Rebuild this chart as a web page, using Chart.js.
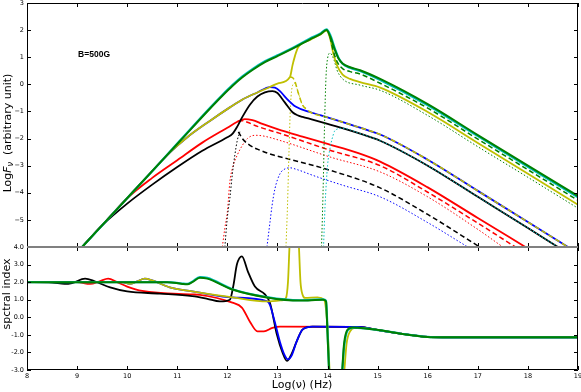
<!DOCTYPE html>
<html>
<head>
<meta charset="utf-8">
<script src="https://cdn.jsdelivr.net/npm/chart.js@4.4.0/dist/chart.umd.min.js"></script>
<style>
body { margin: 0; background: #fff; }
#wrap { position: relative; width: 581px; height: 392px; }
canvas { position: absolute; left: 0; }
#top { top: 0; }
#bot { top: 240px; }
</style>
</head>
<body>
<div id="wrap">
  <canvas id="top" width="581" height="250"></canvas>
  <canvas id="bot" width="581" height="152"></canvas>
</div>
<script>
// tick values
var xTicks = [8, 9, 10, 11, 12, 13, 14, 15, 16, 17, 18, 19];
var fluxTicks = [-6, -5, -4, -3, -2, -1, 0, 1, 2, 3];
var indexTicks = [-3, -2, -1, 0, 1, 2, 3, 4];

// ---- top panel: Log F_nu ----
var greenX = [9.1, 9.6, 10.1, 10.6, 11.05, 11.65, 11.9, 12.1, 12.3, 12.5, 12.75, 13.0, 13.35, 13.65, 13.85, 13.98, 14.05, 14.15, 14.22, 14.3, 14.45, 14.65, 15.05, 16, 17, 18, 19];
var greenY = [-6, -5.0, -4.0, -3.0, -2.1, -0.9, -0.42, -0.06, 0.26, 0.53, 0.82, 1.04, 1.36, 1.66, 1.84, 2.0, 1.78, 1.25, 0.95, 0.77, 0.63, 0.52, 0.2, -0.73, -1.87, -3.0, -4.12];
var cyanY  = [-6, -5.0, -4.0, -3.0, -2.08, -0.87, -0.39, -0.03, 0.29, 0.56, 0.85, 1.07, 1.39, 1.69, 1.87, 2.03, 1.84, 1.3, 0.97, 0.76, 0.61, 0.49, 0.16, -0.77, -1.91, -3.04, -4.17];

var yellowX = [9.1, 9.6, 10.0, 10.4, 10.85, 11.2, 11.65, 12.05, 12.31, 12.6, 12.85, 13.0, 13.25, 13.3, 13.35, 13.41, 13.65, 13.85, 13.98, 14.05, 14.12, 14.2, 14.3, 14.45, 14.65, 15.05, 16, 17, 18, 19];
var yellowY = [-6, -5.0, -4.2, -3.4, -2.52, -1.95, -1.35, -0.85, -0.55, -0.3, -0.1, 0.03, 0.27, 0.7, 1.05, 1.36, 1.64, 1.83, 1.98, 1.7, 1.1, 0.65, 0.36, 0.2, 0.08, -0.12, -1.02, -2.16, -3.3, -4.44];
var yelDashX = [13.25, 13.3, 13.35, 13.41, 13.5, 13.6, 13.65, 14.0, 14.65, 15.05, 16, 17, 18, 18.8];
var yelDashY = [0.27, 0.25, 0.1, -0.28, -0.76, -0.94, -1.02, -1.22, -1.6, -1.85, -2.78, -3.93, -5.08, -6.0];
var yelDotX = [13.17, 13.2, 13.23, 13.26, 13.3, 13.35, 13.41, 13.5, 13.6];
var yelDotY = [-6, -4.5, -2.5, -0.8, -0.05, 0.05, -0.28, -0.76, -0.94];

var blueX = [9.1, 9.6, 10.0, 10.4, 10.85, 11.2, 11.65, 12.05, 12.31, 12.6, 12.85, 12.95, 13.05, 13.17, 13.37, 13.65, 14.0, 14.65, 15.05, 16, 17, 18, 18.8];
var blueY = [-6, -5.0, -4.2, -3.4, -2.52, -1.95, -1.35, -0.85, -0.55, -0.3, -0.1, -0.12, -0.25, -0.5, -0.83, -1.02, -1.22, -1.6, -1.85, -2.78, -3.93, -5.08, -6.0];
var blueDotX = [12.79, 12.85, 12.89, 12.95, 13.05, 13.15, 13.25, 13.4, 13.71, 14.3, 15.05, 16, 16.8];
var blueDotY = [-6, -5.1, -4.5, -3.85, -3.3, -3.12, -3.08, -3.15, -3.36, -3.72, -4.15, -5.1, -6.0];

var blackX = [9.1, 9.5, 10.0, 10.5, 11.0, 11.5, 12.0, 12.1, 12.2, 12.3, 12.45, 12.6, 12.75, 12.9, 13.0, 13.1, 13.2, 13.3, 13.4, 13.5, 13.7, 14.0, 14.65, 15.05, 16, 17, 18, 18.6];
var blackY = [-6, -5.2, -4.4, -3.7, -3.05, -2.45, -1.95, -1.83, -1.55, -1.2, -0.75, -0.45, -0.3, -0.25, -0.32, -0.55, -0.8, -1.03, -1.14, -1.2, -1.3, -1.46, -1.82, -2.08, -3.0, -4.15, -5.3, -6.0];
var blkDashX = [12.22, 12.3, 12.45, 12.65, 12.9, 13.19, 14.05, 15.05, 16, 17.04];
var blkDashY = [-1.75, -2.0, -2.25, -2.43, -2.6, -2.74, -3.17, -3.82, -4.8, -6.0];
var blkDotX = [11.95, 12.0, 12.05, 12.1, 12.15, 12.2, 12.25];
var blkDotY = [-6, -4.9, -4.2, -3.3, -2.6, -2.05, -1.75];

var redX = [9.1, 9.6, 10.0, 10.5, 11.0, 11.5, 12.0, 12.2, 12.35, 12.5, 12.7, 13.0, 13.5, 14.0, 14.6, 15.05, 16, 17, 17.95];
var redY = [-6, -5.0, -4.2, -3.45, -2.8, -2.15, -1.6, -1.38, -1.28, -1.32, -1.46, -1.65, -1.93, -2.2, -2.53, -2.85, -3.8, -4.93, -6.0];
var redDashX = [12.22, 12.3, 12.4, 12.6, 13.05, 14.05, 15.05, 16, 17, 17.75];
var redDashY = [-1.36, -1.34, -1.4, -1.55, -1.81, -2.43, -3.0, -3.98, -5.12, -6.0];
var redDotX = [11.9, 11.95, 12.0, 12.05, 12.1, 12.2, 12.3, 12.4, 12.55, 12.7, 13.05, 14.05, 15.05, 16, 17, 17.5];
var redDotY = [-6, -5.3, -4.7, -3.6, -3.1, -2.6, -2.25, -2.0, -1.88, -1.9, -2.07, -2.68, -3.23, -4.15, -5.35, -6.0];

var grnDashX = [14.05, 14.12, 14.2, 14.3, 14.45, 14.65, 15.05, 16, 17, 18, 19];
var grnDashY = [1.75, 1.2, 0.8, 0.58, 0.47, 0.38, 0.04, -0.88, -2.02, -3.15, -4.28];
var grnDotX = [13.88, 13.91, 13.94, 13.97, 14.0, 14.05, 14.12, 14.19, 14.3, 14.65, 15.05, 16, 17, 18, 19];
var grnDotY = [-6, -4.0, -1.5, 0.3, 0.95, 1.15, 0.95, 0.52, 0.2, -0.03, -0.22, -1.15, -2.3, -3.43, -4.57];
var cyanDotX = [13.92, 13.95, 14.0, 14.05, 14.1, 14.15, 14.3, 14.65, 15.05, 16, 17, 18, 18.6];
var cyanDotY = [-6, -4.5, -3.0, -2.35, -1.95, -1.7, -1.62, -1.82, -2.08, -3.0, -4.15, -5.3, -6.0];

// ---- bottom panel: spectral index ----
var idxGreenX = [8, 9, 10, 10.8, 11.1, 11.2, 11.3, 11.45, 11.6, 12.1, 12.79, 13.45, 13.91, 13.97, 14.0, 14.04, 14.1, 14.22, 14.28, 14.33, 14.4, 14.5, 14.6, 15.05, 15.5, 16, 16.3, 17, 18, 19];
var idxGreenY = [2.0, 2.0, 2.0, 2.0, 1.9, 1.88, 2.0, 2.25, 2.2, 1.58, 1.13, 0.95, 1.0, 0.9, -1.0, -3.5, -4.5, -4.5, -3.5, -1.5, -0.7, -0.58, -0.6, -0.74, -0.95, -1.12, -1.14, -1.14, -1.14, -1.14];
var idxCyanY  = [2.0, 2.0, 2.0, 2.0, 1.92, 1.9, 2.03, 2.29, 2.24, 1.6, 1.15, 0.97, 1.02, 0.95, -0.8, -3.5, -4.5, -4.5, -3.6, -1.7, -0.75, -0.6, -0.6, -0.74, -0.95, -1.12, -1.14, -1.14, -1.14, -1.14];

var idxYellowX = [8, 9.9, 10.05, 10.2, 10.35, 10.5, 10.85, 11.3, 11.45, 12.1, 12.8, 13.1, 13.17, 13.21, 13.25, 13.3, 13.38, 13.42, 13.46, 13.5, 13.55, 13.8, 13.93, 14.0, 14.05, 14.1, 14.25, 14.32, 14.38, 14.45, 14.55, 14.6, 15.05, 15.5, 16, 16.3, 19];
var idxYellowY = [2.0, 2.0, 1.9, 2.05, 2.2, 2.1, 1.7, 1.47, 1.4, 1.13, 0.9, 0.97, 1.1, 2.0, 4.5, 5.0, 5.0, 4.5, 2.0, 1.3, 1.1, 1.13, 1.0, -0.6, -3.5, -4.5, -4.5, -3.5, -1.5, -0.8, -0.6, -0.6, -0.74, -0.95, -1.12, -1.14, -1.14];

var idxBlueX = [8, 9.9, 10.05, 10.2, 10.35, 10.5, 10.85, 11.3, 11.45, 12.1, 12.8, 12.85, 12.95, 13.05, 13.15, 13.21, 13.28, 13.38, 13.5, 13.7, 14.6, 15.05, 15.5, 16, 16.3, 19];
var idxBlueY = [2.0, 2.0, 1.9, 2.05, 2.2, 2.1, 1.7, 1.47, 1.4, 1.13, 0.9, 0.7, -0.3, -1.4, -2.2, -2.4, -2.2, -1.4, -0.7, -0.53, -0.55, -0.74, -0.95, -1.12, -1.14, -1.14];

var idxBlackX = [8, 8.5, 8.75, 8.9, 9.16, 9.35, 9.66, 10.0, 10.65, 11.3, 11.6, 11.85, 12.05, 12.12, 12.19, 12.29, 12.41, 12.55, 12.75, 12.85, 12.99, 13.1, 13.19, 13.28, 13.38, 13.5, 13.7, 14.6, 15.05, 15.5, 16, 16.3, 19];
var idxBlackY = [2.0, 1.98, 1.9, 1.95, 2.2, 2.05, 1.7, 1.47, 1.35, 1.2, 1.05, 0.9, 1.0, 1.8, 3.0, 3.47, 2.6, 1.75, 1.3, 0.83, -1.0, -2.0, -2.48, -2.1, -1.4, -0.7, -0.53, -0.55, -0.74, -0.95, -1.12, -1.14, -1.14];

var idxRedX = [8, 9.0, 9.26, 9.45, 9.62, 9.8, 10.0, 10.3, 11.3, 11.45, 12.1, 12.29, 12.45, 12.6, 12.73, 12.9, 13.05, 14.6, 15.05, 15.5, 16, 16.3, 19];
var idxRedY = [2.0, 2.0, 1.9, 2.05, 2.2, 2.0, 1.75, 1.5, 1.3, 1.28, 0.83, 0.55, -0.25, -0.8, -0.8, -0.6, -0.53, -0.55, -0.74, -0.95, -1.12, -1.14, -1.14];

var GREEN = '#008000', CYAN = '#00bfbf', YELLOW = '#bfbf00', RED = '#ff0000', BLUE = '#0000ff', BLACK = '#000000';
var DASH = [5, 3], DOT = [1.5, 2];

function pts(xs, ys) {
  return xs.map(function (x, i) { return {x: x, y: ys[i]}; });
}
function line(xs, ys, color, width, dash) {
  return {
    data: pts(xs, ys),
    borderColor: color,
    borderWidth: width,
    borderDash: dash || [],
    pointRadius: 0,
    fill: false,
    cubicInterpolationMode: 'monotone'
  };
}
function fluxLabel(v) {
  if (v === -6) return '';
  return v < 0 ? '\u2212' + (-v) : '' + v;
}

// inward ticks and frame, drawn from the chart's own scales
var framePlugin = {
  id: 'frame',
  afterDraw: function (chart, args, opts) {
    var ctx = chart.ctx, a = chart.chartArea;
    var sx = chart.scales.x, sy = chart.scales.y;
    ctx.save();
    ctx.strokeStyle = '#000';
    ctx.lineWidth = 1;
    ctx.beginPath();
    xTicks.forEach(function (v) {
      var px = Math.round(sx.getPixelForValue(v)) + 0.5;
      ctx.moveTo(px, a.top); ctx.lineTo(px, a.top + 4);
      ctx.moveTo(px, a.bottom); ctx.lineTo(px, a.bottom - 4);
    });
    opts.yTicks.forEach(function (v) {
      var py = Math.round(sy.getPixelForValue(v)) + 0.5;
      ctx.moveTo(a.left, py); ctx.lineTo(a.left + 4, py);
      ctx.moveTo(a.right, py); ctx.lineTo(a.right - 4, py);
    });
    ctx.stroke();
    var l = Math.round(a.left) + 0.5, r = Math.round(a.right) - 0.5;
    var t = Math.round(a.top) + 0.5, b = Math.round(a.bottom) - 0.5;
    ctx.beginPath();
    ctx.moveTo(l, t); ctx.lineTo(l, b);
    ctx.moveTo(r, t); ctx.lineTo(r, b);
    if (opts.grayBottom) { ctx.moveTo(l, t); ctx.lineTo(r, t); }
    else { ctx.moveTo(l, b); ctx.lineTo(r, b); }
    ctx.stroke();
    ctx.strokeStyle = '#808080';
    ctx.lineWidth = 2;
    ctx.beginPath();
    var gy = opts.grayBottom ? Math.round(a.bottom) : Math.round(a.top);
    ctx.moveTo(a.left, gy); ctx.lineTo(a.right, gy);
    ctx.stroke();
    ctx.restore();
  }
};

function drawParts(ctx, parts, cx, cy) {
  var total = 0;
  parts.forEach(function (p) { ctx.font = p.f; p.w = ctx.measureText(p.t).width; total += p.w; });
  var x = cx - total / 2;
  parts.forEach(function (p) {
    ctx.font = p.f;
    ctx.fillText(p.t, x, cy + (p.dy || 0));
    x += p.w;
  });
}

var topTexts = {
  id: 'topTexts',
  afterDraw: function (chart) {
    var ctx = chart.ctx, sx = chart.scales.x, sy = chart.scales.y;
    ctx.save();
    ctx.fillStyle = '#000';
    ctx.textBaseline = 'middle';
    ctx.textAlign = 'left';
    ctx.font = 'bold 8.5px "Liberation Sans"';
    ctx.fillText('B=500G', sx.getPixelForValue(9.02), sy.getPixelForValue(1.08));
    ctx.translate(8, 133);
    ctx.rotate(-Math.PI / 2);
    drawParts(ctx, [
      {t: 'Log', f: '11px "DejaVu Sans"'},
      {t: 'F', f: 'italic 11px "DejaVu Sans"'},
      {t: '\u03bd', f: 'italic 8px "DejaVu Sans"', dy: 2.5},
      {t: '  (arbitrary unit)', f: '11px "DejaVu Sans"'}
    ], 0, 0);
    ctx.restore();
  }
};

var botTexts = {
  id: 'botTexts',
  afterDraw: function (chart) {
    var ctx = chart.ctx;
    ctx.save();
    ctx.fillStyle = '#000';
    ctx.textBaseline = 'middle';
    ctx.textAlign = 'left';
    drawParts(ctx, [{t: 'Log(\u03bd) (Hz)', f: '11px "DejaVu Sans"'}], 302, 145);
    ctx.translate(7, 54);
    ctx.rotate(-Math.PI / 2);
    drawParts(ctx, [{t: 'spctral index', f: '11px "DejaVu Sans"'}], 0, 0);
    ctx.restore();
  }
};

var tickFont = {family: 'DejaVu Sans', size: 6.5};

new Chart('top', {
  type: 'line',
  data: {
    datasets: [
      line(greenX, greenY, GREEN, 2),
      line(greenX, cyanY, CYAN, 2.2),
      line(grnDashX, grnDashY, GREEN, 1.5, DASH),
      line(yellowX, yellowY, YELLOW, 1.8),
      line(grnDotX, grnDotY, GREEN, 1, DOT),
      line(yelDashX, yelDashY, YELLOW, 1.5, DASH),
      line(blueX, blueY, BLUE, 1.8),
      line(cyanDotX, cyanDotY, CYAN, 1, DOT),
      line(blackX, blackY, BLACK, 1.8),
      line(yelDotX, yelDotY, YELLOW, 1, DOT),
      line(redX, redY, RED, 1.8),
      line(redDashX, redDashY, RED, 1.5, DASH),
      line(blkDashX, blkDashY, BLACK, 1.5, DASH),
      line(blkDotX, blkDotY, BLACK, 1, DOT),
      line(redDotX, redDotY, RED, 1, DOT),
      line(blueDotX, blueDotY, BLUE, 1, DOT)
    ]
  },
  options: {
    responsive: false,
    animation: false,
    events: [],
    layout: {padding: {left: 0, right: 3, top: 3, bottom: 3}},
    plugins: {legend: {display: false}, tooltip: {enabled: false}, frame: {yTicks: fluxTicks, grayBottom: true}},
    scales: {
      x: {type: 'linear', min: 8, max: 19, display: false},
      y: {
        min: -6, max: 3,
        grid: {display: false, drawTicks: false},
        border: {display: false},
        ticks: {stepSize: 1, padding: 3, color: '#000', font: tickFont, callback: fluxLabel},
        afterFit: function (s) { s.width = 27; s.paddingTop = 0; s.paddingBottom = 0; }
      }
    }
  },
  plugins: [framePlugin, topTexts]
});

new Chart('bot', {
  type: 'line',
  data: {
    datasets: [
      line(idxGreenX, idxGreenY, GREEN, 2),
      line(idxGreenX, idxCyanY, CYAN, 2.2),
      line(idxYellowX, idxYellowY, YELLOW, 1.8),
      line(idxBlueX, idxBlueY, BLUE, 1.8),
      line(idxBlackX, idxBlackY, BLACK, 1.8),
      line(idxRedX, idxRedY, RED, 1.8)
    ]
  },
  options: {
    responsive: false,
    animation: false,
    events: [],
    layout: {padding: {left: 0, right: 3, top: 7, bottom: 0}},
    plugins: {legend: {display: false}, tooltip: {enabled: false}, frame: {yTicks: indexTicks, grayBottom: false}},
    scales: {
      x: {
        type: 'linear', min: 8, max: 19,
        grid: {display: false, drawTicks: false},
        border: {display: false},
        ticks: {stepSize: 1, padding: 2, color: '#000', font: tickFont, maxRotation: 0,
                callback: function (v) { return '' + v; }},
        afterFit: function (s) { s.height = 22; s.paddingLeft = 0; s.paddingRight = 0; }
      },
      y: {
        min: -3, max: 4,
        grid: {display: false, drawTicks: false},
        border: {display: false},
        ticks: {stepSize: 1, padding: 3, color: '#000', font: tickFont,
                callback: function (v) { return v.toFixed(1); }},
        afterFit: function (s) { s.width = 27; s.paddingTop = 0; s.paddingBottom = 0; }
      }
    }
  },
  plugins: [framePlugin, botTexts]
});
</script>
</body>
</html>
